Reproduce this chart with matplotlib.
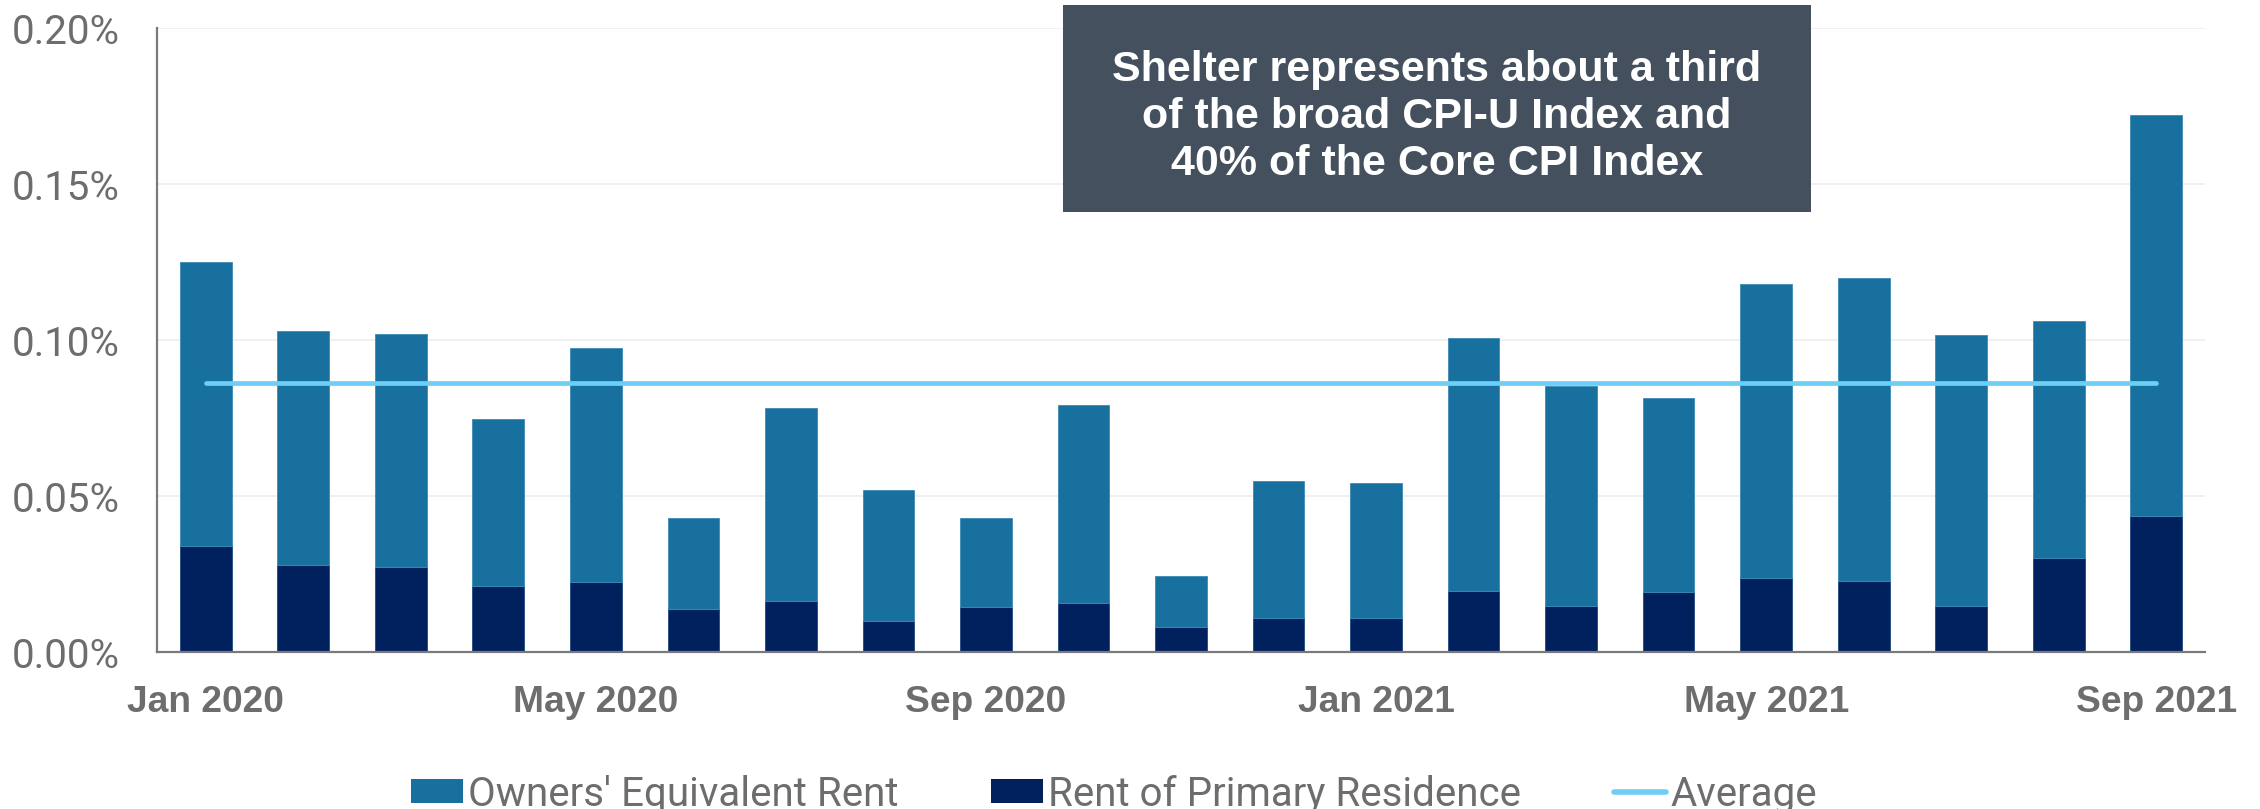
import matplotlib
matplotlib.use("Agg")
import matplotlib.pyplot as plt
from matplotlib.patches import Patch, Rectangle
from matplotlib.lines import Line2D

# monthly contribution to CPI (percentage points), Jan 2020 - Sep 2021
months = ["Jan 2020", "Feb 2020", "Mar 2020", "Apr 2020", "May 2020", "Jun 2020",
          "Jul 2020", "Aug 2020", "Sep 2020", "Oct 2020", "Nov 2020", "Dec 2020",
          "Jan 2021", "Feb 2021", "Mar 2021", "Apr 2021", "May 2021", "Jun 2021",
          "Jul 2021", "Aug 2021", "Sep 2021"]
rent = [0.0340, 0.0280, 0.0271, 0.0212, 0.0223, 0.0138, 0.0162, 0.0098, 0.0144,
        0.0156, 0.0079, 0.0109, 0.0109, 0.0194, 0.0146, 0.0191, 0.0236, 0.0226,
        0.0148, 0.0300, 0.0435]
oer = [0.0910, 0.0750, 0.0749, 0.0536, 0.0750, 0.0290, 0.0620, 0.0420, 0.0284,
       0.0637, 0.0163, 0.0440, 0.0433, 0.0811, 0.0707, 0.0624, 0.0944, 0.0974,
       0.0867, 0.0760, 0.1285]
average = 0.0863

yticks = [0.0, 0.05, 0.10, 0.15, 0.20]
ytick_labels = ["0.00%", "0.05%", "0.10%", "0.15%", "0.20%"]
xtick_idx = [0, 4, 8, 12, 16, 20]

note = "Shelter represents about a third\nof the broad CPI-U Index and\n40% of the Core CPI Index"

c_oer = "#17709d"
c_rent = "#01205e"
c_avg = "#6dcff6"
c_txt = "#6d6d6d"
c_box = "#44505e"

W, H = 2260, 809
fig = plt.figure(figsize=(W / 100, H / 100), dpi=100)
ax = fig.add_axes([157 / W, 1 - 652 / H, 2048 / W, 624 / H])

x = list(range(len(months)))
ax.bar(x, rent, width=0.53, color=c_rent, edgecolor="#1d4a80", linewidth=0.6, zorder=2)
ax.bar(x, oer, width=0.53, bottom=rent, color=c_oer, edgecolor="#3c8ab8", linewidth=0.6, zorder=2)
ax.plot([x[0], x[-1]], [average, average], color=c_avg, lw=3.4,
        solid_capstyle="round", zorder=3)

ax.set_xlim(-0.5, len(months) - 0.5)
ax.set_ylim(0, 0.20)
ax.set_yticks(yticks)
ax.set_yticklabels(ytick_labels, family="Roboto", fontsize=29, color=c_txt)
ax.set_xticks(xtick_idx)
ax.set_xticklabels([months[i] for i in xtick_idx], family="Liberation Sans",
                   fontweight="bold", fontsize=26.7, color=c_txt)
ax.tick_params(axis="both", length=0)
ax.tick_params(axis="y", pad=27)
ax.tick_params(axis="x", pad=24)
ax.grid(axis="y", color="#eeeeee", lw=1.2, zorder=0)
ax.set_axisbelow(True)
for s in ["top", "right"]:
    ax.spines[s].set_visible(False)
for s in ["left", "bottom"]:
    ax.spines[s].set_color("#7a7a7a")
    ax.spines[s].set_linewidth(1.6)

# callout box
fig.patches.append(Rectangle((1063 / W, 1 - 212 / H), (1811 - 1063) / W, (212 - 5) / H,
                             transform=fig.transFigure, facecolor=c_box,
                             edgecolor="none", zorder=5))
fig.text(1437 / W, 1 - 117 / H, note, ha="center", va="center", color="white",
         family="Liberation Sans", fontweight="bold", fontsize=31,
         linespacing=1.24, zorder=6)

handles = [Patch(facecolor=c_oer, label="Owners' Equivalent Rent"),
           Patch(facecolor=c_rent, label="Rent of Primary Residence"),
           Line2D([0], [0], color=c_avg, lw=4.0, solid_capstyle="round", label="Average")]
leg = fig.legend(handles=handles, loc="center", bbox_to_anchor=(1114 / W, 1 - 794 / H),
                 ncol=3, frameon=False, handlelength=1.3, handleheight=0.55,
                 handletextpad=0.12, columnspacing=2.3,
                 prop={"family": "Roboto", "size": 29})
for t in leg.get_texts():
    t.set_color(c_txt)

fig.savefig("out.png", dpi=100)
